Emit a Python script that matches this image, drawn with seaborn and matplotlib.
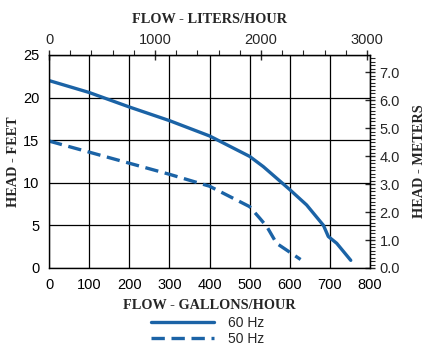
import numpy as np
import matplotlib
matplotlib.use('Agg')
import matplotlib.pyplot as plt
import pandas as pd
import seaborn as sns
from matplotlib.ticker import MultipleLocator, AutoMinorLocator

# pump curves (gallons/hour vs head in feet)
gph_60 = [0, 100, 200, 300, 400, 500, 534, 600, 642, 684, 696, 717, 752]
head_60 = [22.0, 20.6, 18.9, 17.3, 15.5, 13.1, 11.9, 9.2, 7.4, 5.0, 3.7, 2.9, 0.9]
gph_50 = [0, 100, 200, 300, 400, 500, 526, 543, 567, 627]
head_50 = [14.9, 13.6, 12.3, 11.0, 9.6, 7.2, 5.8, 4.85, 2.9, 1.0]
labels = ['60 Hz', '50 Hz']

df = pd.concat([
    pd.DataFrame({'gph': gph_60, 'head': head_60, 'freq': labels[0]}),
    pd.DataFrame({'gph': gph_50, 'head': head_50, 'freq': labels[1]}),
])

sns.set_style('white')
plt.rcParams['font.family'] = ['Liberation Sans', 'DejaVu Sans']
blue = '#1b63a6'
serif = 'Liberation Serif'
tsize = 10.3

fig = plt.figure(figsize=(4.31, 3.53), dpi=100)
ax = fig.add_axes([0.1137, 0.2408, 0.7448, 0.6034])

sns.lineplot(data=df, x='gph', y='head', style='freq', style_order=labels,
             dashes={'60 Hz': '', '50 Hz': (4, 2)}, color=blue, linewidth=2.4,
             sort=False, estimator=None, ax=ax, legend=False)

ax.set_xlim(0, 800)
ax.set_ylim(0, 25)
ax.xaxis.set_major_locator(MultipleLocator(100))
ax.xaxis.set_minor_locator(AutoMinorLocator(6))
ax.yaxis.set_major_locator(MultipleLocator(5))
ax.yaxis.set_minor_locator(MultipleLocator(1))
ax.grid(True, which='major', color='black', linewidth=0.9)
for s in ax.spines.values():
    s.set_color('black')
    s.set_linewidth(1.0)
ax.tick_params(which='major', direction='inout', length=7, width=1, labelsize=10.5, colors='black')
ax.tick_params(which='minor', direction='out', length=3.5, width=0.8, colors='black')
ax.set_xlabel('FLOW - GALLONS/HOUR', family=serif, weight='bold', fontsize=tsize, labelpad=5)
ax.set_ylabel('HEAD - FEET', family=serif, weight='bold', fontsize=tsize, labelpad=2)

# liters/hour on top
top = ax.secondary_xaxis('top', functions=(lambda g: g * 3.785, lambda l: l / 3.785))
top.xaxis.set_major_locator(MultipleLocator(1000))
top.xaxis.set_minor_locator(MultipleLocator(200))
top.tick_params(which='major', direction='inout', length=7, width=1, labelsize=10.5, pad=2)
top.tick_params(which='minor', direction='out', length=3.5, width=0.8)
top.set_xlabel('FLOW - LITERS/HOUR', family=serif, weight='bold', fontsize=tsize, labelpad=7.5)

# meters on the right
right = ax.secondary_yaxis('right', functions=(lambda f: f * 0.3048, lambda m: m / 0.3048))
right.yaxis.set_major_locator(MultipleLocator(1.0))
right.yaxis.set_minor_locator(MultipleLocator(0.125))
right.yaxis.set_major_formatter('{x:.1f}')
right.tick_params(which='major', direction='inout', length=7, width=1, labelsize=10.5)
right.tick_params(which='minor', direction='out', length=3.5, width=0.8)
right.set_ylabel('HEAD - METERS', family=serif, weight='bold', fontsize=tsize, labelpad=9)

handles = [plt.Line2D([], [], color=blue, linewidth=2.4),
           plt.Line2D([], [], color=blue, linewidth=2.4, dashes=(4, 2))]
fig.legend(handles, labels, loc='upper center', bbox_to_anchor=(0.482, 0.124),
           frameon=False, fontsize=10, handlelength=4.5, handletextpad=1.0,
           labelspacing=0.1, borderpad=0)

fig.savefig('out.png', dpi=100)
